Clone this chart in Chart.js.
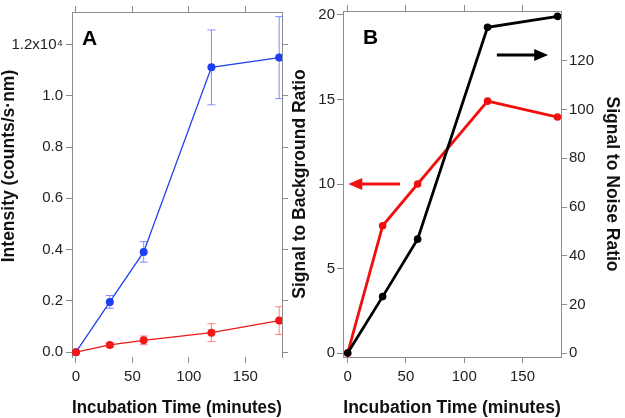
<!DOCTYPE html>
<html>
<head>
<meta charset="utf-8">
<script src="https://cdn.jsdelivr.net/npm/chart.js@4.4.1/dist/chart.umd.min.js"></script>
<style>
body { margin: 0; background: #fff; }
#wrap { position: relative; width: 625px; height: 418px; overflow: hidden; }
canvas { position: absolute; top: 0; }
#chartA { left: 0; }
#chartB { left: 285px; }
</style>
</head>
<body>
<div id="wrap">
  <canvas id="chartA" width="292" height="418"></canvas>
  <canvas id="chartB" width="340" height="418"></canvas>
</div>
<script>
// incubation times (minutes)
const times = [0, 30, 60, 120, 180];

// panel A, intensity in units of 1e4 counts/s.nm
const blueIntensity = [0, 0.196, 0.391, 1.111, 1.149];
const blueError = [0, 0.025, 0.04, 0.146, 0.16];
const redIntensity = [0, 0.028, 0.046, 0.076, 0.123];
const redError = [0, 0.008, 0.017, 0.035, 0.054];

// panel B
const sbrValues = [0, 7.53, 10.0, 14.9, 13.96];
const snrValues = [0, 23.2, 46.8, 133.8, 138.3];

// ticks
const timeTicks = [0, 50, 100, 150];
const intensityTicks = [0, 0.2, 0.4, 0.6, 0.8, 1.0, 1.2];
const intensityLabels = ['0.0', '0.2', '0.4', '0.6', '0.8', '1.0', '1.2x10\u2074'];
const sbrTicks = [0, 5, 10, 15, 20];
const snrTicks = [0, 20, 40, 60, 80, 100, 120];

const frameColor = '#8c8c8c';
const textColor = '#222';
const fontFamily = '"Liberation Sans", Arial, sans-serif';
const tickFont = { family: fontFamily, size: 15 };
const titleFont = { family: fontFamily, size: 17.5, weight: 'bold', lineHeight: 1.2 };

function toPoints(xs, ys) {
  return xs.map((x, i) => ({ x: x, y: ys[i] }));
}

function makeAxis(position, min, max, tickValues, size, opts) {
  opts = opts || {};
  const horizontal = position === 'top' || position === 'bottom';
  return {
    type: 'linear',
    position: position,
    min: min,
    max: max,
    afterBuildTicks: scale => { scale.ticks = tickValues.map(v => ({ value: v })); },
    afterFit: scale => { if (horizontal) scale.height = size; else scale.width = size; },
    border: { display: opts.border !== false, color: frameColor, width: 1 },
    grid: { drawOnChartArea: false, drawTicks: true, tickLength: 6, color: frameColor },
    ticks: {
      display: !!opts.labels,
      color: textColor,
      font: tickFont,
      padding: opts.padding != null ? opts.padding : 3,
      maxRotation: 0,
      autoSkip: false,
      callback: opts.labels ? (v, i) => opts.labels(v, i) : undefined
    },
    title: opts.title ? {
      display: true,
      text: opts.title,
      color: '#111',
      font: titleFont,
      padding: opts.titlePadding || 0
    } : { display: false }
  };
}

const panelLetter = {
  id: 'panelLetter',
  afterDraw(chart, args, o) {
    const ctx = chart.ctx;
    ctx.save();
    ctx.fillStyle = '#000';
    ctx.font = 'bold 21px ' + fontFamily;
    ctx.textBaseline = 'top';
    ctx.fillText(o.text, chart.chartArea.left + o.dx, chart.chartArea.top + o.dy);
    ctx.restore();
  }
};

// y title for panel A sits a bit above the middle of the axis
const sideTitle = {
  id: 'sideTitle',
  afterDraw(chart, args, o) {
    const ctx = chart.ctx;
    ctx.save();
    ctx.fillStyle = '#111';
    ctx.font = 'bold 17.5px ' + fontFamily;
    ctx.textAlign = 'center';
    ctx.textBaseline = 'middle';
    ctx.translate(o.x, o.y);
    ctx.rotate(-Math.PI / 2);
    ctx.fillText(o.text, 0, 0);
    ctx.restore();
  }
};

const errorBars = {
  id: 'errorBars',
  beforeDatasetsDraw(chart, args, o) {
    const ctx = chart.ctx;
    const xs = chart.scales.x, ys = chart.scales.y;
    ctx.save();
    ctx.lineWidth = 1;
    o.sets.forEach(s => {
      ctx.strokeStyle = s.color;
      s.values.forEach((v, i) => {
        if (!s.errors[i]) return;
        const px = xs.getPixelForValue(times[i]);
        const top = ys.getPixelForValue(v + s.errors[i]);
        const bot = ys.getPixelForValue(v - s.errors[i]);
        ctx.beginPath();
        ctx.moveTo(px, top); ctx.lineTo(px, bot);
        ctx.moveTo(px - 4, top); ctx.lineTo(px + 4, top);
        ctx.moveTo(px - 4, bot); ctx.lineTo(px + 4, bot);
        ctx.stroke();
      });
    });
    ctx.restore();
  }
};

const arrows = {
  id: 'arrows',
  afterDatasetsDraw(chart, args, o) {
    const ctx = chart.ctx;
    const xs = chart.scales.x;
    ctx.save();
    o.list.forEach(a => {
      const ys = chart.scales[a.axis];
      const x1 = xs.getPixelForValue(a.from);
      const x2 = xs.getPixelForValue(a.to);
      const y = ys.getPixelForValue(a.y);
      const dir = x2 > x1 ? 1 : -1;
      ctx.strokeStyle = a.color;
      ctx.fillStyle = a.color;
      ctx.lineWidth = 3;
      ctx.beginPath();
      ctx.moveTo(x1, y);
      ctx.lineTo(x2 - dir * 10, y);
      ctx.stroke();
      ctx.beginPath();
      ctx.moveTo(x2, y);
      ctx.lineTo(x2 - dir * 14, y - 6);
      ctx.lineTo(x2 - dir * 14, y + 6);
      ctx.closePath();
      ctx.fill();
    });
    ctx.restore();
  }
};

new Chart('chartA', {
  type: 'scatter',
  data: {
    datasets: [
      {
        data: toPoints(times, redIntensity),
        showLine: true,
        borderColor: '#f01818',
        backgroundColor: '#f01818',
        borderWidth: 1.3,
        pointRadius: 4,
        pointBorderWidth: 0
      },
      {
        data: toPoints(times, blueIntensity),
        showLine: true,
        borderColor: '#2040f0',
        backgroundColor: '#1c3cf5',
        borderWidth: 1.3,
        pointRadius: 4,
        pointBorderWidth: 0
      }
    ]
  },
  options: {
    responsive: false,
    animation: false,
    layout: { padding: 0 },
    scales: {
      x: makeAxis('bottom', -3.5, 182.5, timeTicks, 61, {
        border: false,
        labels: v => String(v),
        padding: 5,
        title: 'Incubation Time (minutes)',
        titlePadding: { top: 0, bottom: -1 }
      }),
      xTop: makeAxis('top', -3.5, 182.5, timeTicks, 6, {}),
      y: makeAxis('left', -0.019, 1.327, intensityTicks, 72, {
        labels: (v, i) => intensityLabels[intensityTicks.indexOf(v)],
        padding: 3
      }),
      yRight: makeAxis('right', -0.019, 1.327, intensityTicks, 10, {})
    },
    plugins: {
      legend: { display: false },
      tooltip: { enabled: false },
      panelLetter: { text: 'A', dx: 10, dy: 17 },
      sideTitle: { text: 'Intensity (counts/s\u00b7nm)', x: 9, y: 166 },
      errorBars: {
        sets: [
          { values: blueIntensity, errors: blueError, color: '#7d8cff' },
          { values: redIntensity, errors: redError, color: '#ff8080' }
        ]
      }
    }
  },
  plugins: [panelLetter, sideTitle, errorBars]
});

new Chart('chartB', {
  type: 'scatter',
  data: {
    datasets: [
      {
        data: toPoints(times, snrValues),
        yAxisID: 'y2',
        showLine: true,
        borderColor: '#000',
        backgroundColor: '#000',
        borderWidth: 2.8,
        pointRadius: 3.8,
        pointBorderWidth: 0
      },
      {
        data: toPoints(times, sbrValues),
        yAxisID: 'y',
        showLine: true,
        borderColor: '#f01010',
        backgroundColor: '#f01010',
        borderWidth: 2.8,
        pointRadius: 3.8,
        pointBorderWidth: 0
      }
    ]
  },
  options: {
    responsive: false,
    animation: false,
    layout: { padding: 0 },
    scales: {
      x: makeAxis('bottom', -4, 183, timeTicks, 61, {
        labels: v => String(v),
        padding: 5,
        title: 'Incubation Time (minutes)',
        titlePadding: { top: 0, bottom: -1 }
      }),
      xTop: makeAxis('top', -4, 183, timeTicks, 7, {}),
      y: makeAxis('left', -0.23, 20.23, sbrTicks, 58, {
        labels: v => String(v),
        padding: 2,
        title: 'Signal to Background Ratio',
        titlePadding: { top: 4.5, bottom: 0 }
      }),
      y2: makeAxis('right', -1.6, 140.5, snrTicks, 64, {
        labels: v => String(v),
        padding: 2,
        title: 'Signal to Noise Ratio',
        titlePadding: { top: 2.5, bottom: 0 }
      })
    },
    plugins: {
      legend: { display: false },
      tooltip: { enabled: false },
      panelLetter: { text: 'B', dx: 20, dy: 17 },
      arrows: {
        list: [
          { axis: 'y', y: 10, from: 45, to: 0.5, color: '#f01010' },
          { axis: 'y2', y: 122.4, from: 128, to: 172, color: '#000' }
        ]
      }
    }
  },
  plugins: [panelLetter, arrows]
});
</script>
</body>
</html>
